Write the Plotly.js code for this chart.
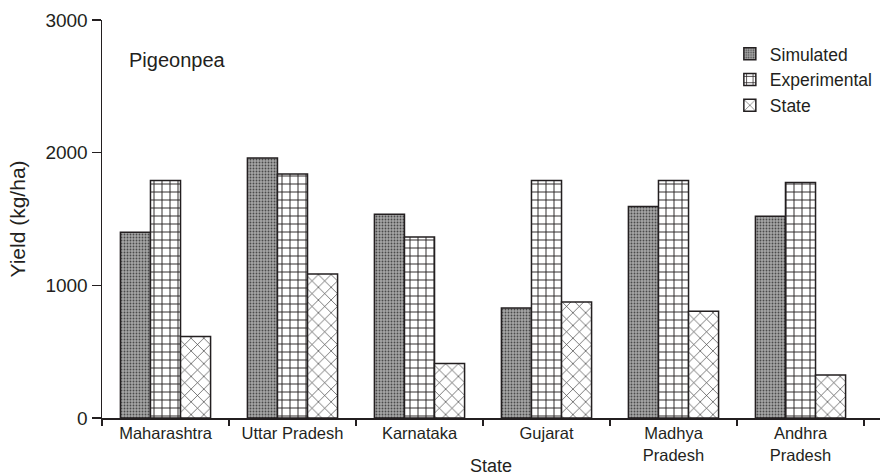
<!DOCTYPE html>
<html>
<head>
<meta charset="utf-8">
<script src="https://cdn.plot.ly/plotly-3.0.1.min.js"></script>
<style>html,body{margin:0;padding:0;background:#fff;}#chart{width:880px;height:476px;}</style>
</head>
<body>
<div id="chart"></div>
<script>
const categories = ["Maharashtra", "Uttar Pradesh", "Karnataka", "Gujarat", "Madhya<br>Pradesh", "Andhra<br>Pradesh"];
const simulated = [1400, 1960, 1535, 830, 1595, 1520];
const experimental = [1790, 1840, 1365, 1790, 1790, 1775];
const stateYield = [615, 1085, 410, 875, 805, 325];
const yTicks = [0, 1000, 2000, 3000];

const font = "Liberation Sans, Arial, sans-serif";
const ink = "#231f20";

const traces = [
  {type: "bar", name: "Simulated", x: categories, y: simulated,
   marker: {color: "#8a8a8a", line: {color: ink, width: 1.5},
            pattern: {shape: ".", fgcolor: "#4a4a4a", bgcolor: "#a6a6a6", size: 3, solidity: 0.3}}},
  {type: "bar", name: "Experimental", x: categories, y: experimental,
   marker: {color: "#ffffff", line: {color: ink, width: 1.5},
            pattern: {shape: "+", fgcolor: ink, bgcolor: "#ffffff", size: 8, solidity: 0.22}}},
  {type: "bar", name: "State", x: categories, y: stateYield,
   marker: {color: "#ffffff", line: {color: ink, width: 1.5},
            pattern: {shape: "x", fgcolor: "#333", bgcolor: "#ffffff", size: 9, solidity: 0.14}}}
];

const layout = {
  width: 880, height: 476,
  margin: {l: 102, r: 0, t: 20, b: 58},
  paper_bgcolor: "#fff", plot_bgcolor: "#fff",
  font: {family: font, color: ink, size: 16},
  barmode: "group", bargap: 0.29, bargroupgap: 0,
  showlegend: true,
  legend: {x: 0.807, y: 0.96, xanchor: "left", yanchor: "top",
           font: {family: font, size: 17.5, color: ink}, bgcolor: "rgba(0,0,0,0)",
           tracegroupgap: 0, itemwidth: 30},
  xaxis: {
    type: "category", range: [-0.5, 5.626],
    showline: true, linecolor: ink, linewidth: 1.5,
    ticks: "outside", tickson: "boundaries", ticklen: 6, tickcolor: ink, tickwidth: 1.2,
    tickfont: {family: font, size: 16.5, color: ink},
    showgrid: false, zeroline: false,
    title: {text: "State", font: {family: font, size: 18, color: ink}, standoff: 0}
  },
  yaxis: {
    range: [0, 3000], tickvals: yTicks, ticktext: yTicks.map(String),
    showline: true, linecolor: ink, linewidth: 1.5,
    ticks: "outside", ticklen: 9, tickcolor: ink, tickwidth: 1.2,
    tickfont: {family: font, size: 19, color: ink},
    showgrid: false, zeroline: false,
    title: {text: "Yield (kg/ha)", font: {family: font, size: 21, color: ink}, standoff: 14}
  },
  annotations: [{
    text: "Pigeonpea", xref: "paper", yref: "paper", x: 0.032, y: 0.9,
    xanchor: "left", yanchor: "middle", showarrow: false,
    font: {family: font, size: 20, color: ink}
  }]
};

Plotly.newPlot("chart", traces, layout, {displayModeBar: false, staticPlot: true});
</script>
</body>
</html>
